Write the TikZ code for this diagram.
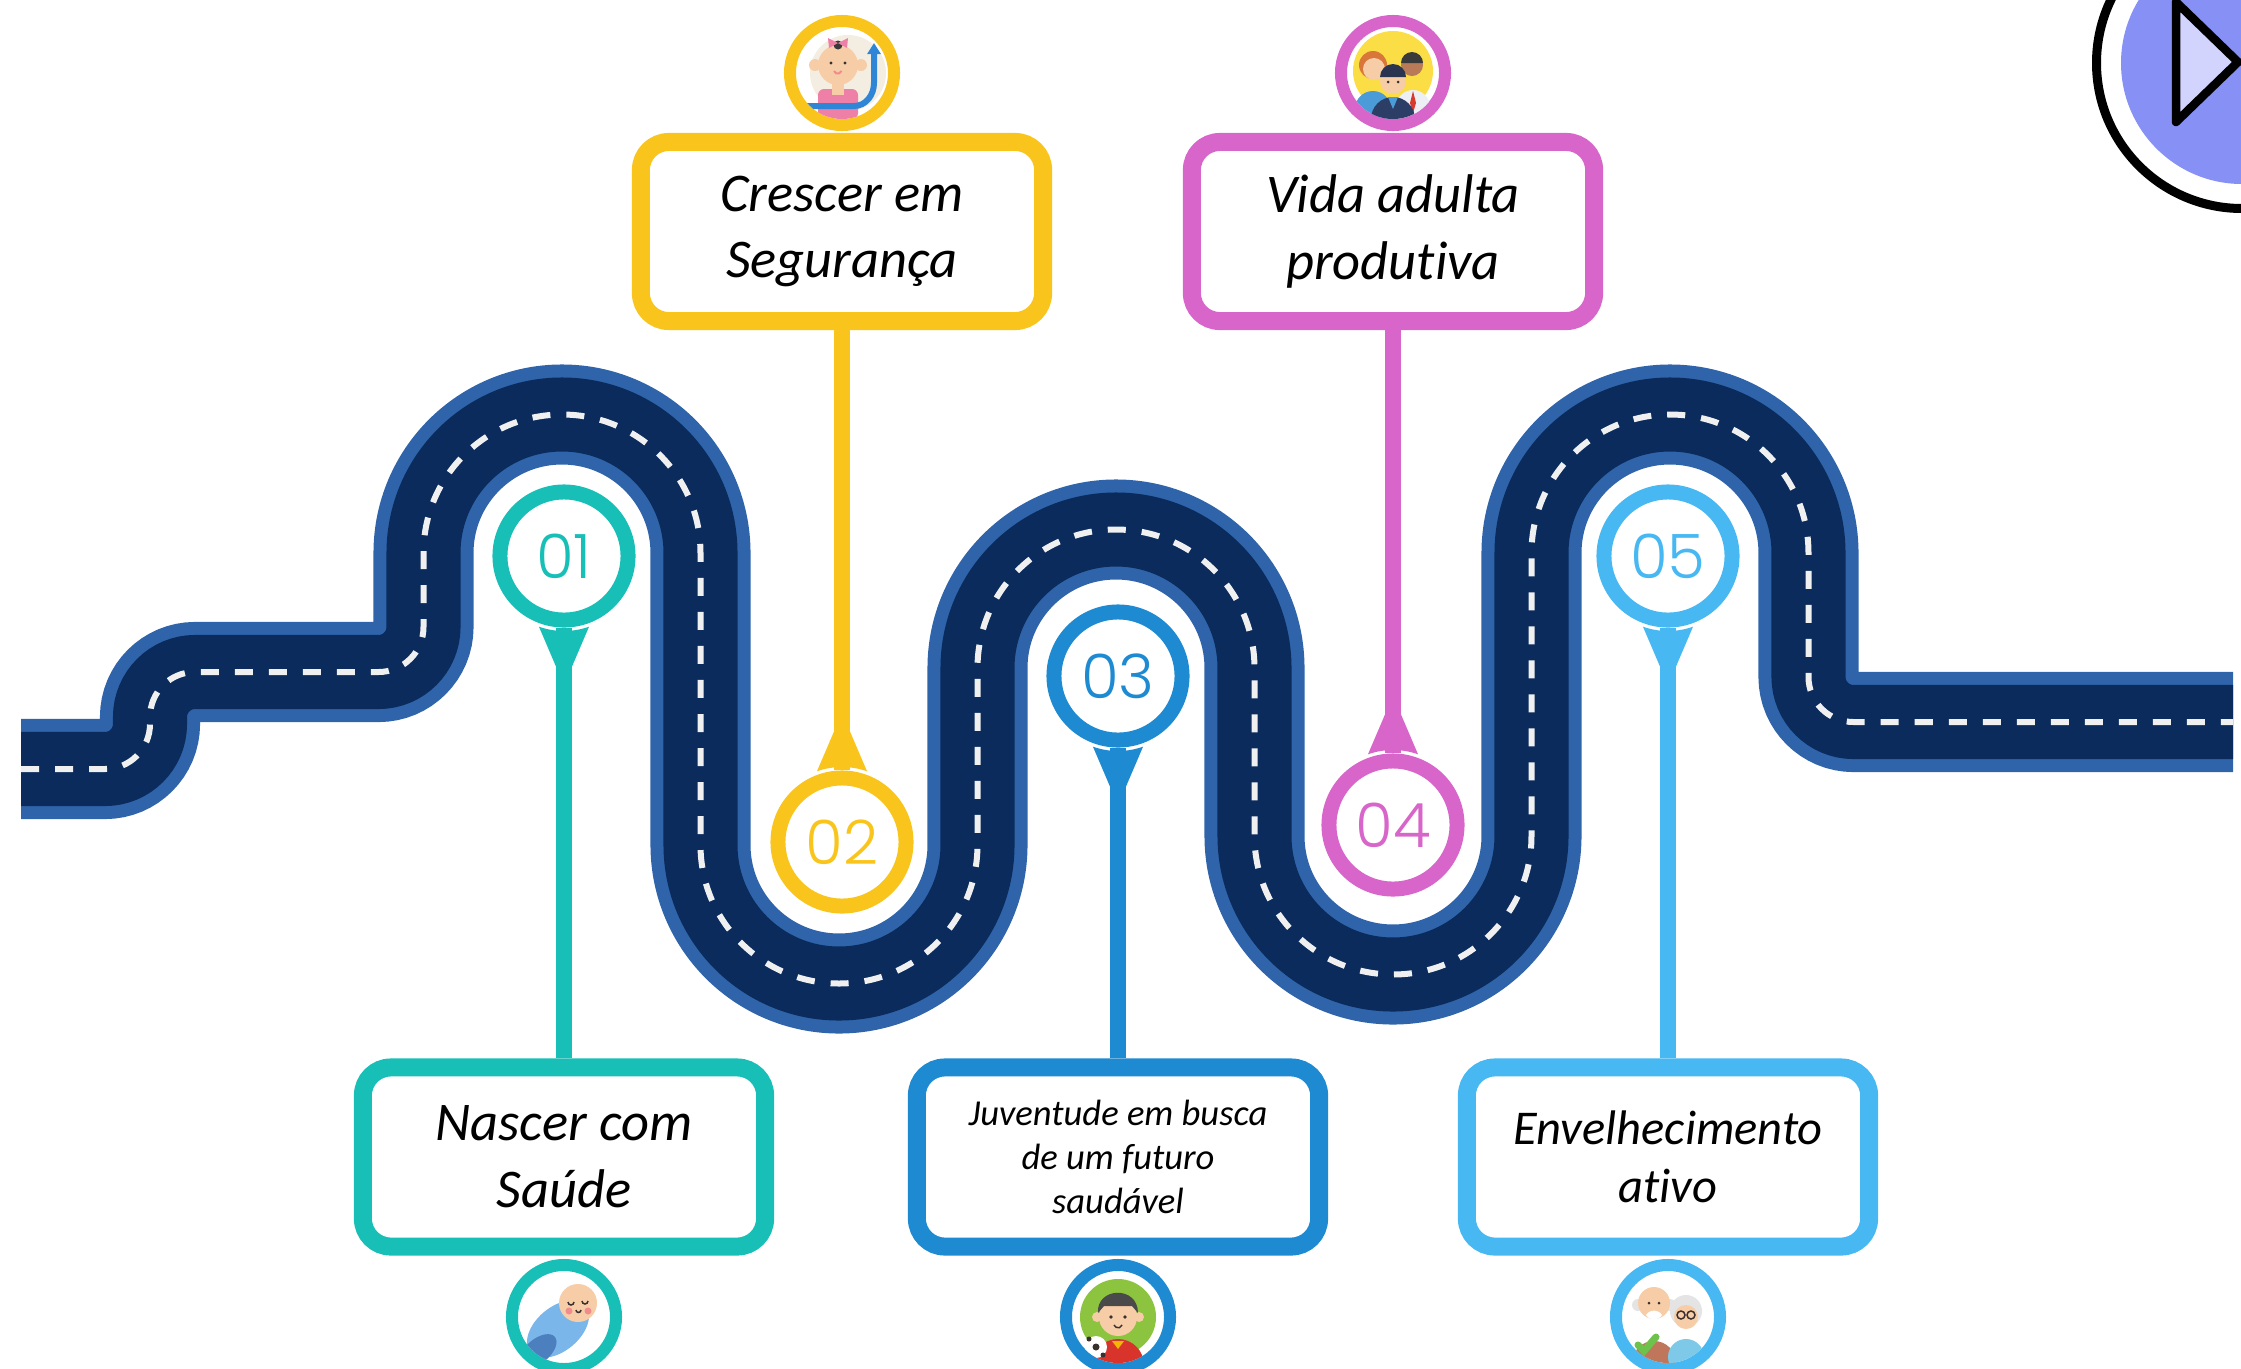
\documentclass[tikz,border=0pt]{standalone}
\usepackage{fontspec}
\usetikzlibrary{arrows.meta,calc}
\newfontfamily\labelfont{Carlito}[Ligatures=NoCommon]
\IfFontExistsTF{Poppins Light}{\newfontfamily\numfont{Poppins Light}}{\newfontfamily\numfont{Poppins}}
\definecolor{roadedge}{HTML}{2F64AA}
\definecolor{roadfill}{HTML}{0A2B5C}
\definecolor{lane}{HTML}{F0F0F0}
\definecolor{teal1}{HTML}{17BFB7}
\definecolor{amber}{HTML}{F9C51C}
\definecolor{ocean}{HTML}{1E8AD1}
\definecolor{orchid}{HTML}{D865C9}
\definecolor{sky}{HTML}{47B8F2}
\definecolor{playfill}{HTML}{8690F5}
\definecolor{playtri}{HTML}{D2D4FE}
\definecolor{ink}{HTML}{3A3030}
\definecolor{skin}{HTML}{F7CDA8}
\definecolor{blush}{HTML}{F08C8C}
\definecolor{blanket}{HTML}{7AB6EA}
\definecolor{blanketdark}{HTML}{4C7FBE}
\definecolor{cream}{HTML}{F4EEE2}
\definecolor{shirtpink}{HTML}{EE7FA6}
\definecolor{arrowblue}{HTML}{2F86D6}
\definecolor{sun}{HTML}{FBDD45}
\definecolor{hairorange}{HTML}{D9773A}
\definecolor{hairdark}{HTML}{3A3A3A}
\definecolor{hairnavy}{HTML}{2A3350}
\definecolor{suitnavy}{HTML}{2C3E66}
\definecolor{shirtblue}{HTML}{4A9BD8}
\definecolor{shirtwhite}{HTML}{ECEFF3}
\definecolor{tie}{HTML}{D93A2E}
\definecolor{darkskin}{HTML}{B97A57}
\definecolor{grass}{HTML}{8CC43F}
\definecolor{hairgrey}{HTML}{4A4A4A}
\definecolor{jersey}{HTML}{D8342B}
\definecolor{gold}{HTML}{F2B705}
\definecolor{greyhair}{HTML}{E4E4E4}
\definecolor{shirtbrown}{HTML}{C0765A}
\definecolor{cardigan}{HTML}{7EC8E8}
\definecolor{checkgreen}{HTML}{6CC24A}
\tikzset{
  road/.style={draw=roadedge, line width=1cm,
    postaction={draw=roadfill, line width=0.74cm},
    postaction={draw=lane, line width=0.06cm, dash pattern=on 0.18cm off 0.16cm}},
  numring/.style={circle, draw=#1, line width=0.15cm, fill=white, minimum size=1.28cm, inner sep=0pt,
    text=#1, font=\numfont\fontsize{17.4}{18}\selectfont},
  stepbox/.style={rounded corners=0.28cm, draw=#1, line width=0.18cm, fill=white, minimum width=4.02cm,
    minimum height=1.79cm, inner sep=0pt, align=center, text=black,
    font=\labelfont\itshape\fontsize{15.5}{19}\selectfont},
  iconring/.style={circle, draw=#1, line width=0.12cm, fill=white, minimum size=1.04cm, inner sep=0pt},
  stem/.style={draw=#1, line width=0.16cm},
  face/.style={draw=ink, line width=0.015cm},
}

\begin{document}
\begin{tikzpicture}[x=0.01cm, y=0.01cm]
  \useasboundingbox (0,0) rectangle (2241,-1369);
  \clip (0,0) rectangle (2241,-1369);

  % the road
  \draw[road] (21,-769) -- (105,-769) arc[start angle=-90, end angle=0, radius=45]
    -- (150,-717) arc[start angle=180, end angle=90, radius=45]
    -- (378.5,-672) arc[start angle=-90, end angle=0, radius=45]
    -- (423.5,-553) arc[start angle=180, end angle=0, radius=138.5]
    -- (700.5,-845) arc[start angle=180, end angle=360, radius=138.5]
    -- (977.5,-668) arc[start angle=180, end angle=0, radius=138.5]
    -- (1254.5,-836) arc[start angle=180, end angle=360, radius=138.5]
    -- (1531.5,-553) arc[start angle=180, end angle=0, radius=138.5]
    -- (1808.5,-677) arc[start angle=180, end angle=270, radius=45]
    -- (2233,-722);

  \node[numring=teal1] (n1) at (564,-556) {01};
  \node[numring=amber] (n2) at (842,-842) {02};
  \node[numring=ocean] (n3) at (1118,-676) {03};
  \node[numring=orchid] (n4) at (1393,-825) {04};
  \node[numring=sky] (n5) at (1668,-556) {05};

  \node[stepbox=teal1] (nascer) at (564,-1157) {Nascer com\\Saúde};
  \node[stepbox=amber] (crescer) at (842,-231.5) {Crescer em\\Segurança};
  \node[stepbox=ocean, font=\labelfont\itshape\fontsize{10.4}{12.5}\selectfont] (juventude) at (1118,-1157)
    {Juventude em busca\\de um futuro\\saudável};
  \node[stepbox=orchid] (vida) at (1393,-231.5) {Vida adulta\\produtiva};
  \node[stepbox=sky, font=\labelfont\itshape\fontsize{13.8}{16.6}\selectfont] (envelhec) at (1668,-1157)
    {Envelhecimento\\ativo};

  \node[iconring=teal1] (i1) at (564,-1317) {};
  \node[iconring=amber] (i2) at (842,-73) {};
  \node[iconring=ocean] (i3) at (1118,-1317) {};
  \node[iconring=orchid] (i4) at (1393,-73) {};
  \node[iconring=sky] (i5) at (1668,-1317) {};

  \foreach \p/\q/\c in {n1/nascer/teal1, crescer/n2/amber, n3/juventude/ocean, vida/n4/orchid, n5/envelhec/sky}
    \draw[stem=\c] (\p.south) -- (\q.north);

  % pin tips between ring and stem
  \foreach \n/\a/\c in {n1/270/teal1, n2/90/amber, n3/270/ocean, n4/90/orchid, n5/270/sky} {
    \pgfmathsetmacro\lo{\a-19.5}
    \pgfmathsetmacro\hi{\a+19.5}
    \pgfmathsetmacro\tl{\a+4.1}
    \pgfmathsetmacro\tr{\a-4.1}
    \fill[\c] ($(\n.center)+(\lo:75)$) arc[start angle=\lo, end angle=\hi, radius=75]
      -- ($(\n.center)+(\tl:111)$) -- ($(\n.center)+(\tr:111)$) -- cycle;
  }

  % newborn
  \begin{scope}[shift={(i1.center)}]
    \clip (0,0) circle (46);
    \fill[blanket, shift={(-6,-12)}, rotate=40] (0,0) ellipse [x radius=36, y radius=22];
    \fill[blanketdark, shift={(-26,-34)}, rotate=40] (0,0) ellipse [x radius=22, y radius=12];
    \fill[skin] (14,14) circle (19);
    \fill[blush] (5,6) circle (3.5);
    \fill[blush] (24,6) circle (3.5);
    \draw[face] (4,15) arc[start angle=180, end angle=360, radius=3];
    \draw[face] (18,16) arc[start angle=180, end angle=360, radius=3];
    \draw[face] (12,7) arc[start angle=180, end angle=360, radius=2.5];
  \end{scope}

  % growing girl
  \begin{scope}[shift={(i2.center)}]
    \clip (0,0) circle (46);
    \fill[cream] (6,0) circle (38);
    \fill[shirtpink, rounded corners=0.06cm] (-24,-46) rectangle (16,-16);
    \fill[skin] (-10,-22) rectangle (2,-10);
    \fill[skin] (-27,8) circle (6);
    \fill[skin] (19,8) circle (6);
    \fill[skin] (-4,8) circle (20);
    \fill[hairdark] (-4,28) circle (4.5);
    \fill[shirtpink] (-4,30) -- (-14,35) -- (-13,25) -- cycle;
    \fill[shirtpink] (-4,30) -- (6,35) -- (5,25) -- cycle;
    \fill[ink] (-11,10) circle (1.6);
    \fill[ink] (3,10) circle (1.6);
    \draw[blush, line width=0.02cm] (-8,2) arc[start angle=200, end angle=340, radius=4];
    \draw[arrowblue, line width=0.06cm, -{Triangle[length=0.11cm, width=0.13cm]}]
      (-36,-33) -- (12,-33) to[out=0, in=-90] (32,-10) -- (32,30);
  \end{scope}

  % young footballer
  \begin{scope}[shift={(i3.center)}]
    \clip (0,0) circle (46);
    \fill[grass] (0,0) circle (38);
    \fill[jersey] (0,-48) circle (26);
    \fill[gold] (-6,-24) -- (6,-24) -- (0,-32) -- cycle;
    \fill[skin] (-21,0) circle (5);
    \fill[skin] (21,0) circle (5);
    \fill[skin] (0,0) circle (19);
    \fill[hairgrey] (-20,4) .. controls (-22,30) and (20,32) .. (20,4) -- (14,11) -- (-14,11) -- cycle;
    \fill[ink] (-7,0) circle (1.8);
    \fill[ink] (7,0) circle (1.8);
    \draw[face] (-4,-8) arc[start angle=200, end angle=340, radius=4.3];
    \fill[white] (-22,-30) circle (11);
    \fill[ink] (-22,-30) circle (3.5);
    \fill[ink] (-29,-22) circle (2.5);
    \fill[ink] (-15,-38) circle (2.5);
  \end{scope}

  % working adults
  \begin{scope}[shift={(i4.center)}]
    \clip (0,0) circle (46);
    \fill[sun] (0,2) circle (40);
    \fill[shirtblue] (-20,-36) circle (18);
    \fill[hairorange] (-20,8) circle (14);
    \fill[skin] (-19,4) circle (11);
    \fill[shirtwhite] (20,-34) circle (17);
    \fill[tie] (20,-18) -- (23,-30) -- (20,-40) -- (17,-30) -- cycle;
    \fill[darkskin] (19,8) circle (11);
    \fill[hairdark] (8,10) arc[start angle=180, end angle=0, radius=11] -- cycle;
    \fill[suitnavy] (0,-46) circle (22);
    \fill[shirtblue] (-5,-24) -- (5,-24) -- (0,-36) -- cycle;
    \fill[skin] (0,-8) circle (13);
    \fill[hairnavy] (-13,-4) arc[start angle=180, end angle=0, radius=13] -- cycle;
    \fill[ink] (-5,-9) circle (1.5);
    \fill[ink] (5,-9) circle (1.5);
  \end{scope}

  % elderly couple
  \begin{scope}[shift={(i5.center)}]
    \clip (0,0) circle (46);
    \fill[shirtbrown] (-14,-46) circle (22);
    \fill[greyhair] (-30,12) circle (6);
    \fill[greyhair] (2,12) circle (6);
    \fill[skin] (-14,14) circle (16);
    \fill[white] (-22,2) .. controls (-18,8) and (-10,8) .. (-6,2) .. controls (-10,-4) and (-18,-4) .. (-22,2);
    \fill[ink] (-19,14) circle (1.5);
    \fill[ink] (-9,14) circle (1.5);
    \fill[cardigan] (18,-40) circle (18);
    \fill[greyhair] (18,6) circle (16);
    \fill[skin] (18,0) circle (12);
    \draw[face] (13,2) circle (4) (23,2) circle (4);
    \draw[checkgreen, line width=0.07cm, line cap=round] (-30,-28) -- (-24,-34) -- (-12,-20);
  \end{scope}

  % play button
  \draw[line width=0.09cm] (2242,-63) circle (145.5);
  \fill[playfill] (2242,-63) circle (121);
  \draw[line width=0.085cm, line join=round, fill=playtri] (2176,-2) -- (2176,-122) -- (2238,-62) -- cycle;
\end{tikzpicture}
\end{document}
